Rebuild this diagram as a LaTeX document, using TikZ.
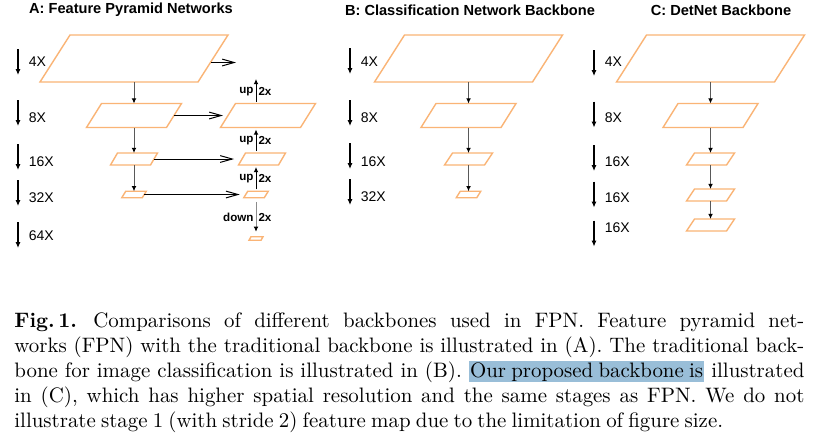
\documentclass[tikz,border=0pt]{standalone}
\usepackage{fontspec}
\newfontfamily\arialfont{Liberation Sans}
\usetikzlibrary{arrows.meta,calc}

\definecolor{maporange}{RGB}{250,180,118}
\definecolor{hilite}{RGB}{153,190,216}
\setlength{\fboxsep}{0pt}
\newcommand{\capfont}{\fontsize{10.45}{12.5}\selectfont\frenchspacing\spaceskip=2.6pt plus 1.6pt minus 0.4pt\relax}

\tikzset{
  fmap/.style={draw=maporange, line width=0.7pt, line join=miter},
  fmapbox/.style={inner sep=0pt, outer sep=0pt},
  stride/.style={-{Latex[length=3pt,width=2.6pt]}, line width=0.6pt},
  flow/.style={-{Latex[black,length=2.6pt,width=2.4pt]}, draw=black!65, line width=0.5pt},
  upflow/.style={-{Latex[length=2.6pt,width=2.4pt]}, line width=0.5pt, shorten <=1pt, shorten >=1pt},
  lateral/.style={-{Straight Barb[length=6pt,width=3.4pt]}, line width=0.5pt, shorten >=2.5pt},
  scalelbl/.style={anchor=west, inner sep=0pt, font=\arialfont\fontsize{7}{8}\selectfont},
  title/.style={font=\arialfont\bfseries\fontsize{7.3}{9}\selectfont},
  updn/.style={inner sep=1pt, font=\arialfont\bfseries\fontsize{5.8}{7}\selectfont},
  capline/.style={anchor=base west, inner sep=0pt, font=\capfont}
}

% feature map: name, x, y, width, height, slant
\newcommand{\featmap}[6]
{
  \node[fmapbox, minimum width=#4*0.5pt, minimum height=#5*0.5pt] (#1) at (#2,#3) {};
  \draw[fmap] ($(#1.north west)+(#6/2,0)$) -- ($(#1.north east)+(#6/2,0)$)
    -- ($(#1.south east)-(#6/2,0)$) -- ($(#1.south west)-(#6/2,0)$) -- cycle;
}
% stride mark: name, x, arrow y, label y, text
\newcommand{\stridemark}[5]
{
  \node[scalelbl] (#1) at (#2+10.5,#4) {#5};
  \draw[stride] (#2,#3-13) -- (#2,#3+13);
}

\begin{document}
\begin{tikzpicture}[x=0.5pt,y=-0.5pt]
    \path[use as bounding box, fill=white] (0,0) rectangle (822,441);

    \node[title] (tA) at (131,10) {A: Feature Pyramid Networks};
    \node[title] (tB) at (470,10) {B: Classification Network Backbone};
    \node[title] (tC) at (721,10) {C: DetNet Backbone};

    % strides
    \foreach \n/\ya/\yl/\t in {1/62/62/4X, 2/113/118/8X, 3/157/162/16X, 4/193/198/32X, 5/235/236/64X}
      {\stridemark{sA\n}{18}{\ya}{\yl}{\t}}
    \foreach \n/\ya/\yl/\t in {1/61/62/4X, 2/113/118/8X, 3/156/162/16X, 4/192/197/32X}
      {\stridemark{sB\n}{350}{\ya}{\yl}{\t}}
    \foreach \n/\ya/\yl/\t in {1/63/62/4X, 2/114.5/118/8X, 3/158/162/16X, 4/194.5/198/16X, 5/233.5/228/16X}
      {\stridemark{sC\n}{594}{\ya}{\yl}{\t}}

    % A: FPN
    \featmap{A1}{134}{58.5}{158}{47}{30}
    \featmap{A2}{134}{115.5}{80}{24}{15}
    \featmap{A3}{134}{159}{40}{12}{7}
    \featmap{A4}{134}{194.5}{20.5}{6.5}{4}
    \featmap{R2}{268}{115.5}{80}{24}{15}
    \featmap{R3}{262}{159}{40}{12}{7}
    \featmap{R4}{256}{194.5}{20.5}{6.5}{4}
    \featmap{R5}{256}{238.5}{12}{3.5}{2}

    \draw[flow] (A1.south) -- (A2.north);
    \draw[flow] (A2.south) -- (A3.north);
    \draw[flow] (A3.south) -- (A4.north);

    \coordinate (o1) at (236,62.5);
    \coordinate (o2) at (256,79);
    \draw[lateral, shorten >=0pt] ($(A1.east)+(-2,4)$) -- (o1);
    \draw[lateral] (A2.east) -- (R2.west);
    \draw[lateral, shorten >=4pt] (A3.east) -- (R3.west);
    \draw[lateral, shorten >=3pt] (A4.east) -- (R4.west);

    \draw[upflow] (R4.north) -- (R4.north |- R3.south)
      node[midway, updn, left] {up} node[midway, updn, right] {2x};
    \draw[upflow] (R3.north -| R4.north) -- (R2.south -| R4.north)
      node[midway, updn, left] {up} node[midway, updn, right] {2x};
    \draw[upflow, shorten >=0pt] (R2.north -| R4.north) -- (o2)
      node[midway, updn, left] {up} node[midway, updn, right] {2x};
    \draw[flow, draw=black!45, shorten <=2pt, shorten >=2.5pt] (R4.south) -- (R5.north)
      node[midway, updn, left] {down} node[midway, updn, right] {2x};

    % B: classification backbone
    \featmap{B1}{468.5}{58.5}{158}{47}{30}
    \featmap{B2}{468.5}{115.5}{80}{24}{15}
    \featmap{B3}{468.5}{159}{40}{12}{8}
    \featmap{B4}{468.5}{194.5}{20.5}{6.5}{4}
    \draw[flow] (B1.south) -- (B2.north);
    \draw[flow] (B2.south) -- (B3.north);
    \draw[flow] (B3.south) -- (B4.north);

    % C: DetNet backbone
    \featmap{C1}{710.5}{58.5}{158}{47}{30}
    \featmap{C2}{710.5}{115.5}{80}{24}{15}
    \featmap{C3}{710.5}{159}{40}{12}{8}
    \featmap{C4}{710.5}{195}{40}{12}{8}
    \featmap{C5}{710.5}{225}{40}{12}{8}
    \draw[flow] (C1.south) -- (C2.north);
    \draw[flow] (C2.south) -- (C3.north);
    \draw[flow] (C3.south) -- (C4.north);
    \draw[flow] (C4.south) -- (C5.north);

    % caption
    \node[capline] (cap1) at (14,327) {\makebox[395pt][s]{\textbf{Fig.\,1.}\hspace{1.5pt} Comparisons of different backbones used in FPN. Feature pyramid net-}};
    \node[capline] (cap2) at (14,352) {\makebox[395pt][s]{works (FPN) with the traditional backbone is illustrated in (A). The traditional back-}};
    \node[capline] (cap3) at (14,377) {\makebox[395pt][s]{bone for image classification is illustrated in (B). \colorbox{hilite}{\rule[-2.5pt]{0pt}{10.5pt}\kern0.6pt Our proposed backbone is\kern0.6pt} illustrated}};
    \node[capline] (cap4) at (14,402) {\makebox[395pt][s]{in (C), which has higher spatial resolution and the same stages as FPN. We do not}};
    \node[capline] (cap5) at (14,427) {illustrate stage 1 (with stride 2) feature map due to the limitation of figure size.};
  \end{tikzpicture}
\end{document}
